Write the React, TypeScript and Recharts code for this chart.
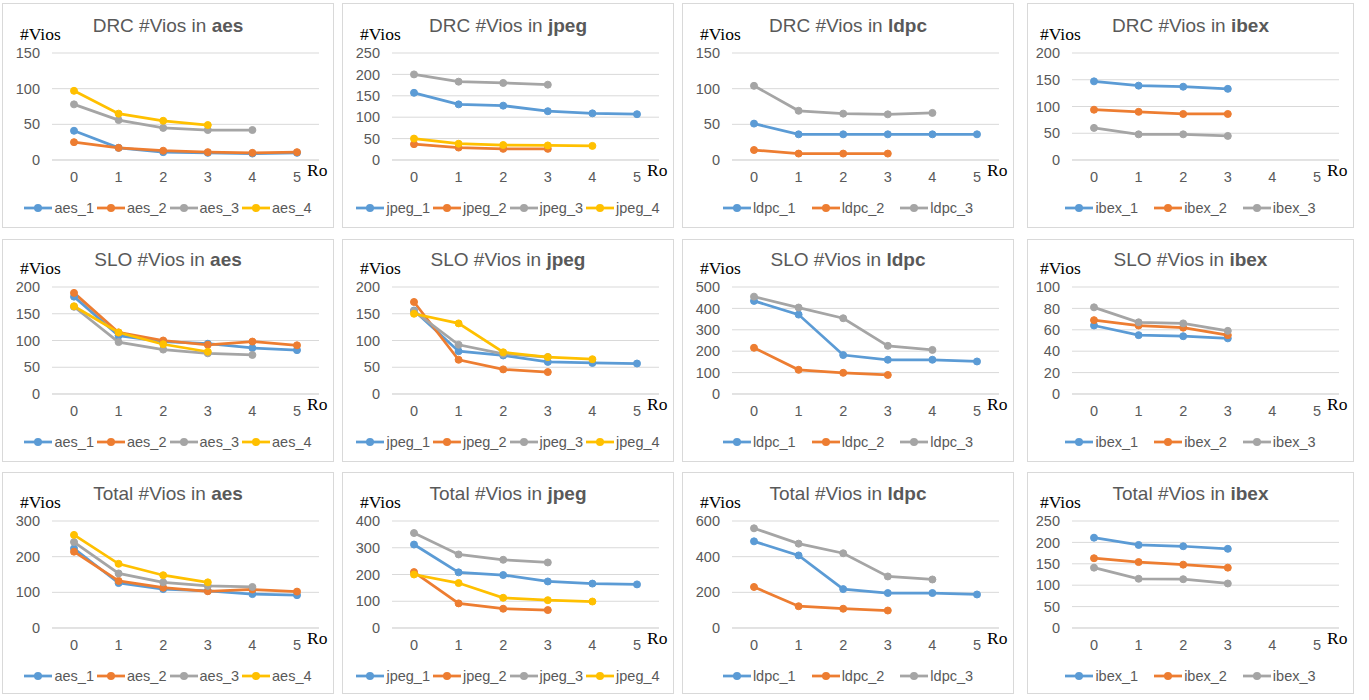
import React from "react";
import { LineChart, Line, XAxis, YAxis, CartesianGrid } from "recharts";

const rounds = ["0", "1", "2", "3", "4", "5"];
const colors = ["#5B9BD5", "#ED7D31", "#A5A5A5", "#FFC000"];

// DRC violations per round
const drcAes = [
  [41, 17, 11, 10, 9, 10],
  [25, 17, 13, 11, 10, 11],
  [78, 56, 45, 42, 42],
  [97, 65, 55, 49],
];
const drcJpeg = [
  [157, 130, 127, 114, 109, 107],
  [37, 29, 26, 26],
  [200, 183, 180, 176],
  [50, 38, 35, 34, 33],
];
const drcLdpc = [
  [51, 36, 36, 36, 36, 36],
  [14, 9, 9, 9],
  [104, 69, 65, 64, 66],
];
const drcIbex = [
  [147, 139, 137, 133],
  [94, 90, 86, 86],
  [60, 48, 48, 45],
];

// SLO violations per round
const sloAes = [
  [182, 109, 98, 94, 86, 82],
  [189, 115, 100, 92, 98, 91],
  [163, 97, 83, 76, 73],
  [164, 115, 93, 79],
];
const sloJpeg = [
  [156, 80, 72, 60, 58, 57],
  [172, 64, 46, 41],
  [155, 92, 75, 69],
  [150, 132, 78, 69, 65],
];
const sloLdpc = [
  [435, 371, 182, 160, 160, 152],
  [216, 113, 99, 89],
  [455, 404, 354, 225, 206],
];
const sloIbex = [
  [64, 55, 54, 52],
  [69, 64, 62, 55],
  [81, 67, 66, 59],
];

// Total violations per round
const totalAes = [
  [223, 126, 109, 104, 95, 92],
  [214, 132, 113, 103, 108, 102],
  [241, 153, 128, 118, 115],
  [261, 180, 148, 128],
];
const totalJpeg = [
  [312, 208, 198, 174, 166, 163],
  [209, 92, 72, 67],
  [355, 275, 255, 245],
  [200, 168, 113, 104, 99],
];
const totalLdpc = [
  [486, 407, 218, 196, 196, 188],
  [230, 122, 108, 98],
  [559, 473, 419, 289, 272],
];
const totalIbex = [
  [211, 194, 191, 185],
  [163, 154, 148, 141],
  [141, 115, 114, 104],
];

const ticks150 = [0, 50, 100, 150];
const ticks200 = [0, 50, 100, 150, 200];
const ticks250 = [0, 50, 100, 150, 200, 250];
const ticks100by20 = [0, 20, 40, 60, 80, 100];
const ticks300 = [0, 100, 200, 300];
const ticks400 = [0, 100, 200, 300, 400];
const ticks500 = [0, 100, 200, 300, 400, 500];
const ticks600 = [0, 200, 400, 600];

const cols = [
  { x: 2, w: 332, plotLeft: 50 },
  { x: 342, w: 332, plotLeft: 50 },
  { x: 682, w: 332, plotLeft: 50 },
  { x: 1027, w: 327, plotLeft: 45 },
];
const rows = [
  { y: 3, h: 225, plotTop: 50, plotBottom: 157 },
  { y: 239, h: 223, plotTop: 48, plotBottom: 155 },
  { y: 472, h: 222, plotTop: 49, plotBottom: 156 },
];

const panels = [
  { kind: "DRC", design: "aes", series: drcAes, ticks: ticks150 },
  { kind: "DRC", design: "jpeg", series: drcJpeg, ticks: ticks250 },
  { kind: "DRC", design: "ldpc", series: drcLdpc, ticks: ticks150 },
  { kind: "DRC", design: "ibex", series: drcIbex, ticks: ticks200 },
  { kind: "SLO", design: "aes", series: sloAes, ticks: ticks200 },
  { kind: "SLO", design: "jpeg", series: sloJpeg, ticks: ticks200 },
  { kind: "SLO", design: "ldpc", series: sloLdpc, ticks: ticks500 },
  { kind: "SLO", design: "ibex", series: sloIbex, ticks: ticks100by20 },
  { kind: "Total", design: "aes", series: totalAes, ticks: ticks300 },
  { kind: "Total", design: "jpeg", series: totalJpeg, ticks: ticks400 },
  { kind: "Total", design: "ldpc", series: totalLdpc, ticks: ticks600 },
  { kind: "Total", design: "ibex", series: totalIbex, ticks: ticks250 },
];

const sans = '"Liberation Sans", Arial, sans-serif';
const serif = '"Liberation Serif", "Times New Roman", serif';
const textGray = "#595959";
const gridGray = "#d9d9d9";

const Panel = ({ idx }: { idx: number }) => {
  const p = panels[idx];
  const c = cols[idx % 4];
  const r = rows[Math.floor(idx / 4)];
  const names = p.series.map((_, k) => `${p.design}_${k + 1}`);
  const data = rounds.map((round, i) => {
    const row: Record<string, any> = { round };
    p.series.forEach((s, k) => {
      row[names[k]] = s[i];
    });
    return row;
  });
  const plotRight = c.w - 15;
  const yAxisW = 40;
  const xAxisH = 30;

  return (
    <div
      style={{
        position: "absolute",
        left: c.x,
        top: r.y,
        width: c.w,
        height: r.h,
        background: "#fff",
        boxShadow: `inset 0 0 0 1px ${gridGray}`,
      }}
    >
      <div
        style={{
          position: "absolute",
          left: 0,
          width: c.w,
          top: r.plotTop - 27 - 12,
          height: 24,
          lineHeight: "24px",
          textAlign: "center",
          fontFamily: sans,
          fontSize: 19,
          color: textGray,
        }}
      >
        {p.kind} #Vios in <b>{p.design}</b>
      </div>
      <div
        style={{
          position: "absolute",
          left: c.plotLeft - 32,
          top: r.plotTop - 19 - 11,
          height: 22,
          lineHeight: "22px",
          fontFamily: serif,
          fontSize: 17.5,
          color: "#000",
        }}
      >
        #Vios
      </div>
      <div
        style={{
          position: "absolute",
          left: plotRight - 12,
          top: r.plotBottom + 10 - 11,
          height: 22,
          lineHeight: "22px",
          fontFamily: serif,
          fontSize: 17.5,
          color: "#000",
        }}
      >
        Ro
      </div>
      <LineChart
        width={c.w}
        height={r.h}
        data={data}
        margin={{
          top: r.plotTop,
          right: c.w - plotRight,
          bottom: r.h - r.plotBottom - xAxisH,
          left: c.plotLeft - yAxisW,
        }}
        style={{ position: "absolute", left: 0, top: 0 }}
      >
        <CartesianGrid vertical={false} stroke={gridGray} strokeWidth={1} />
        <XAxis
          dataKey="round"
          height={xAxisH}
          interval={0}
          padding={{ left: 22, right: 22 }}
          tickLine={false}
          axisLine={{ stroke: gridGray }}
          tickMargin={6}
          tick={{ fill: textGray, fontSize: 14.5, fontFamily: sans }}
        />
        <YAxis
          width={yAxisW}
          domain={[0, p.ticks[p.ticks.length - 1]]}
          ticks={p.ticks}
          interval={0}
          tickLine={false}
          axisLine={false}
          tickMargin={6}
          tick={{ fill: textGray, fontSize: 14.5, fontFamily: sans }}
        />
        {names.map((n, k) => (
          <Line
            key={n}
            type="linear"
            dataKey={n}
            stroke={colors[k]}
            strokeWidth={2.75}
            dot={{ r: 3.5, fill: colors[k], stroke: colors[k], strokeWidth: 1 }}
            activeDot={false}
            isAnimationActive={false}
          />
        ))}
      </LineChart>
      <div
        style={{
          position: "absolute",
          left: 0,
          width: c.w,
          top: r.plotBottom + 48 - 10,
          height: 20,
          display: "flex",
          justifyContent: "center",
          alignItems: "center",
          gap: names.length > 3 ? 3 : 16,
          fontFamily: sans,
          fontSize: 14.5,
          color: textGray,
        }}
      >
        {names.map((n, k) => (
          <div key={n} style={{ display: "flex", alignItems: "center", gap: 2 }}>
            <svg width={28} height={10}>
              <line x1={0} y1={5} x2={28} y2={5} stroke={colors[k]} strokeWidth={2.75} />
              <circle cx={14} cy={5} r={4} fill={colors[k]} />
            </svg>
            <span>{n}</span>
          </div>
        ))}
      </div>
    </div>
  );
};

export default function App() {
  return (
    <div
      style={{
        position: "absolute",
        left: 0,
        top: 0,
        width: 1369,
        height: 700,
        background: "#fff",
      }}
    >
      {panels.map((_, i) => (
        <Panel key={i} idx={i} />
      ))}
    </div>
  );
}
